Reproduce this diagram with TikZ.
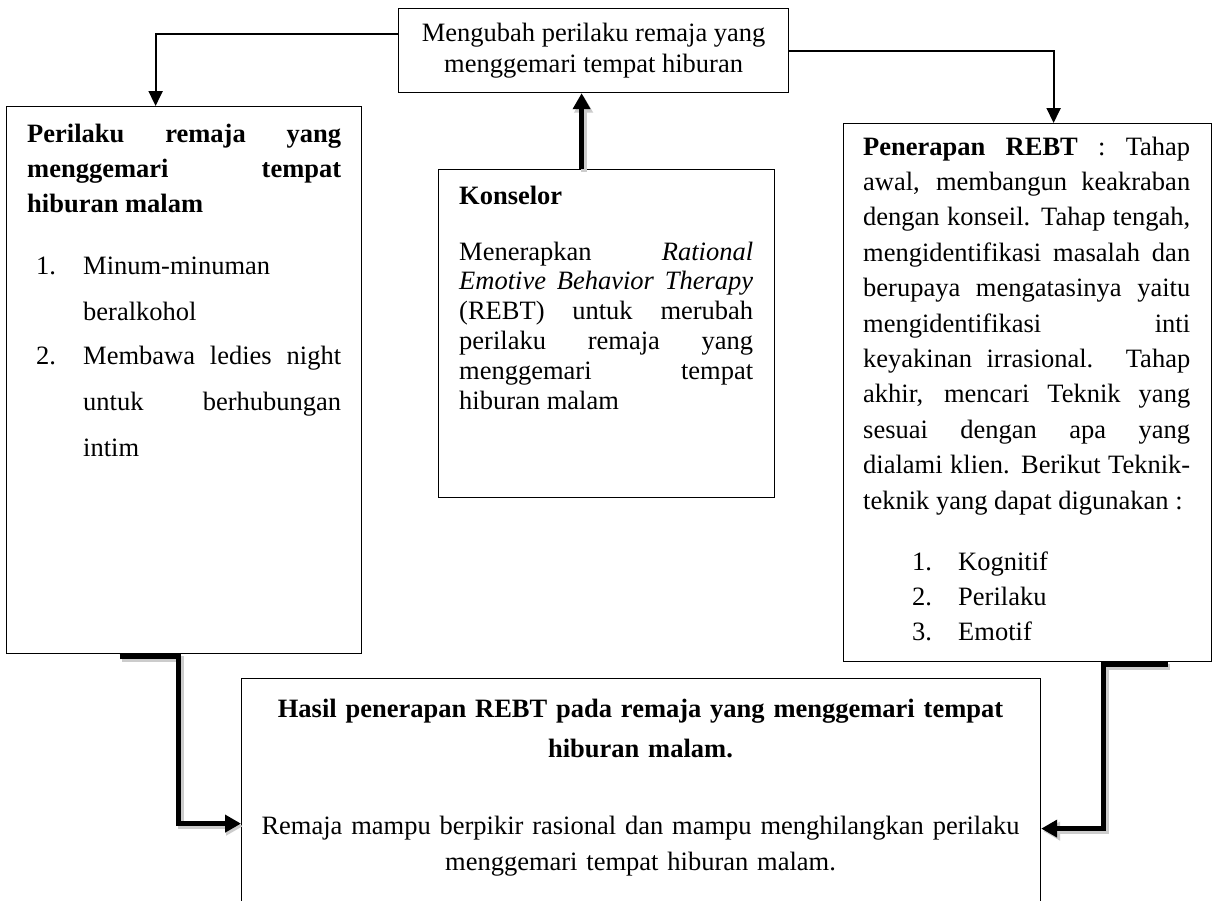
\documentclass[tikz,border=0pt]{standalone}
\usepackage{fontspec}
\setmainfont{Liberation Serif}
\usetikzlibrary{arrows.meta}
\tolerance=10000 \hbadness=10000 \hyphenpenalty=10000 \exhyphenpenalty=10000
\begin{document}
\begin{tikzpicture}[x=1pt,y=-1pt,
  box/.style={draw=black, line width=1.2pt, rectangle, inner sep=0pt, anchor=north west},
  txt/.style={inner sep=0pt, anchor=base west, align=justify},
  ctxt/.style={inner sep=0pt, anchor=base, align=center, text width=790pt},
  thinarrow/.style={draw=black, line width=2pt, -{Triangle[length=15pt,width=14pt]}},
  thickarrow/.style={draw=black, line width=5pt, -{Triangle[length=16pt,width=17pt]}},
  shadowline/.style={draw=black!20, line width=6pt, -{Triangle[length=17pt,width=18pt]}, transform canvas={shift={(2pt,-2.5pt)}}},
]
\useasboundingbox (0,0) rectangle (1217,900);
\clip (0,0) rectangle (1217,900);
\fill[white] (0,0) rectangle (1217,900);

% boxes
\node[box, minimum width=390pt, minimum height=84pt, align=center,
      font=\fontsize{26.5}{31}\selectfont] (topbox) at (398,8)
      {Mengubah perilaku remaja yang\\menggemari tempat hiburan};
\node[box, minimum width=355pt, minimum height=547pt] (leftbox) at (6,106) {};
\node[box, minimum width=336pt, minimum height=328pt] (konbox) at (438,169) {};
\node[box, minimum width=368pt, minimum height=538pt] (rightbox) at (843,123) {};
\node[box, minimum width=799pt, minimum height=240pt] (botbox) at (241,678) {};

% left box text
\node[txt, text width=314pt, font=\fontsize{26.5}{35}\selectfont\bfseries] (lhead) at (27,142)
  {Perilaku remaja yang\linebreak menggemari tempat\linebreak hiburan malam};
\node[txt, font=\fontsize{26.5}{46}\selectfont] (lnum1) at (36,274) {1.};
\node[txt, text width=258pt, font=\fontsize{26.5}{46}\selectfont] (litem1) at (83,274)
  {Minum-minuman\linebreak beralkohol};
\node[txt, font=\fontsize{26.5}{46}\selectfont] (lnum2) at (36,364) {2.};
\node[txt, text width=258pt, font=\fontsize{26.5}{46}\selectfont] (litem2) at (83,364)
  {Membawa ledies night\linebreak untuk berhubungan\linebreak intim};

% konselor text
\node[txt, font=\fontsize{26.5}{30}\selectfont\bfseries] (ktitle) at (459,204) {Konselor};
\node[txt, text width=294pt, font=\fontsize{26.5}{29.8}\selectfont] (kbody) at (459,260)
  {Menerapkan \textit{Rational}\linebreak \textit{Emotive Behavior Therapy}\linebreak (REBT) untuk merubah\linebreak perilaku remaja yang\linebreak menggemari tempat\linebreak hiburan malam};

% right box text
\node[txt, text width=327pt, font=\fontsize{26.5}{35.4}\selectfont] (rbody) at (863,155)
  {\textbf{Penerapan REBT} : Tahap\linebreak awal, membangun keakraban\linebreak dengan konseil. Tahap tengah,\linebreak mengidentifikasi masalah dan\linebreak berupaya mengatasinya yaitu\linebreak mengidentifikasi inti\linebreak keyakinan irrasional. Tahap\linebreak akhir, mencari Teknik yang\linebreak sesuai dengan apa yang\linebreak dialami klien. Berikut Teknik-\linebreak teknik yang dapat digunakan :};
\node[txt, font=\fontsize{26.5}{35}\selectfont] (rn1) at (912,570) {1.};
\node[txt, font=\fontsize{26.5}{35}\selectfont] (rt1) at (958,570) {Kognitif};
\node[txt, font=\fontsize{26.5}{35}\selectfont] (rn2) at (912,605) {2.};
\node[txt, font=\fontsize{26.5}{35}\selectfont] (rt2) at (958,605) {Perilaku};
\node[txt, font=\fontsize{26.5}{35}\selectfont] (rn3) at (912,640) {3.};
\node[txt, font=\fontsize{26.5}{35}\selectfont] (rt3) at (958,640) {Emotif};

% bottom box text
\node[ctxt, font=\fontsize{26.5}{40}\selectfont\bfseries] (btitle) at (640.5,717)
  {Hasil penerapan REBT pada remaja yang menggemari tempat\\hiburan malam.};
\node[ctxt, font=\fontsize{26.5}{36}\selectfont] (bbody) at (640.5,834)
  {Remaja mampu berpikir rasional dan mampu menghilangkan perilaku\\menggemari tempat hiburan malam.};

% thin connectors
\draw[thinarrow] ([yshift=17pt]topbox.west) -| ([xshift=-28.5pt]leftbox.north);
\draw[thinarrow] (topbox.east) -| ([xshift=26pt]rightbox.north);

% shadows of thick connectors
\draw[shadowline] ([xshift=-25pt]konbox.north) -- ([xshift=-25pt]konbox.north |- topbox.south);
\draw[shadowline] ([xshift=-64.5pt,yshift=-2pt]leftbox.south) -- ++(59,0) |- ([yshift=-25pt]botbox.west);
\draw[shadowline] ([xshift=140pt,yshift=-2pt]rightbox.south) -- ++(-64,0) |- ([yshift=-30pt]botbox.east);

% thick connectors
\draw[thickarrow] ([xshift=-25pt]konbox.north) -- ([xshift=-25pt]konbox.north |- topbox.south);
\draw[thickarrow] ([xshift=-64.5pt,yshift=-2pt]leftbox.south) -- ++(59,0) |- ([yshift=-25pt]botbox.west);
\draw[thickarrow] ([xshift=140pt,yshift=-2pt]rightbox.south) -- ++(-64,0) |- ([yshift=-30pt]botbox.east);
\end{tikzpicture}
\end{document}
